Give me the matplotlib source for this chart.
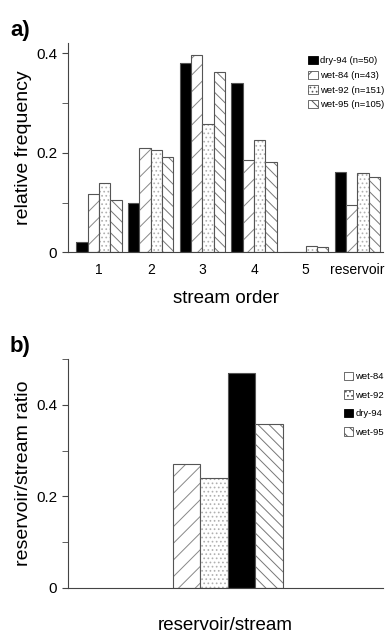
import matplotlib.pyplot as plt
from matplotlib.patches import Patch
import numpy as np

plt.rcParams['font.family'] = ['Liberation Sans', 'DejaVu Sans']
plt.rcParams['hatch.linewidth'] = 0.7

# panel a: relative frequency by stream order
orders = ['1', '2', '3', '4', '5', 'reservoir']
dry94 = [0.020, 0.100, 0.381, 0.340, 0.0, 0.161]
wet84 = [0.117, 0.209, 0.396, 0.186, 0.0, 0.094]
wet92 = [0.140, 0.205, 0.257, 0.225, 0.012, 0.159]
wet95 = [0.105, 0.191, 0.363, 0.181, 0.010, 0.152]
labels_a = ['dry-94 (n=50)', 'wet-84 (n=43)', 'wet-92 (n=151)', 'wet-95 (n=105)']

# panel b: reservoir/stream ratio
names_b = ['wet-84', 'wet-92', 'dry-94', 'wet-95']
ratio_b = [0.270, 0.241, 0.470, 0.359]

edge = '#555555'
# facecolor, hatch, hatch colour
styles = {
    'dry-94': ('black', None, 'black'),
    'wet-84': ('white', '//', '#888888'),
    'wet-92': ('white', '....', '#b0b0b0'),
    'wet-95': ('white', '\\\\\\', '#777777'),
}


def draw_bars(ax, xs, vals, width, key):
    fc, hatch, hc = styles[key]
    # fill + hatch in a lighter colour, then the outline on top
    ax.bar(xs, vals, width, facecolor=fc, hatch=hatch, edgecolor=hc, linewidth=0)
    ax.bar(xs, vals, width, facecolor='none', edgecolor=edge, linewidth=0.8)


def handle(key, label):
    fc, hatch, hc = styles[key]
    return Patch(facecolor=fc, hatch=hatch, edgecolor=edge if key != 'dry-94' else 'black',
                 linewidth=0.6, label=label)


def style_axis(ax):
    ax.spines['top'].set_visible(False)
    ax.spines['right'].set_visible(False)
    ax.spines['left'].set_color('#444444')
    ax.spines['bottom'].set_color('#444444')
    ax.tick_params(axis='y', direction='out', length=4.5, color='#444444', labelsize=11)
    ax.tick_params(axis='y', which='minor', direction='out', length=4.5, color='#444444')
    ax.tick_params(axis='x', length=0, labelsize=10, pad=8)


fig = plt.figure(figsize=(3.85, 6.37), dpi=100)

# ---- a) ----
ax1 = fig.add_axes([0.177, 0.604, 0.818, 0.328])
x = np.arange(len(orders))
w = 0.22
series_a = [('dry-94', dry94), ('wet-84', wet84), ('wet-92', wet92), ('wet-95', wet95)]
for i, (key, vals) in enumerate(series_a):
    draw_bars(ax1, x + (i - 1.5) * w, vals, w, key)
ax1.set_xlim(-0.6, 5.5)
ax1.set_ylim(0, 0.42)
ax1.set_xticks(x)
ax1.set_xticklabels(orders)
ax1.set_yticks([0, 0.2, 0.4])
ax1.set_yticklabels(['0', '0.2', '0.4'])
ax1.set_yticks([0.1, 0.3], minor=True)
style_axis(ax1)
ax1.set_ylabel('relative frequency', fontsize=14, labelpad=3)
ax1.set_xlabel('stream order', fontsize=13.5, labelpad=9)
ax1.legend(handles=[handle(k, labels_a[i]) for i, (k, _) in enumerate(series_a)],
           loc='upper right', bbox_to_anchor=(1.03, 0.98), frameon=False, fontsize=6.8,
           handlelength=1.0, handleheight=1.0, handletextpad=0.2, labelspacing=0.55)
fig.text(0.026, 0.943, 'a)', fontsize=16, fontweight='bold')

# ---- b) ----
ax2 = fig.add_axes([0.177, 0.077, 0.818, 0.3595])
wb = 0.2
for i, key in enumerate(names_b):
    draw_bars(ax2, [(i - 1.5) * wb], [ratio_b[i]], wb, key)
ax2.set_xlim(-1.16, 1.13)
ax2.set_ylim(0, 0.5)
ax2.set_xticks([])
ax2.set_yticks([0, 0.2, 0.4])
ax2.set_yticklabels(['0', '0.2', '0.4'])
ax2.set_yticks([0.1, 0.3, 0.5], minor=True)
style_axis(ax2)
ax2.set_ylabel('reservoir/stream ratio', fontsize=14, labelpad=3)
ax2.set_xlabel('reservoir/stream', fontsize=13.5, labelpad=21)
ax2.legend(handles=[handle(k, k) for k in names_b],
           loc='upper right', bbox_to_anchor=(1.03, 0.98), frameon=False, fontsize=6.8,
           handlelength=1.0, handleheight=1.0, handletextpad=0.2, labelspacing=0.95)
fig.text(0.026, 0.448, 'b)', fontsize=16, fontweight='bold')

fig.savefig('out.png', dpi=100)
